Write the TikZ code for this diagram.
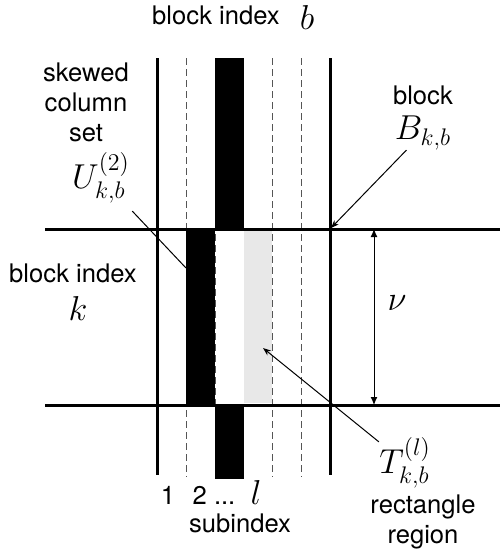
\documentclass[tikz,border=0pt]{standalone}
\usepackage{fontspec}
\newfontfamily\helv{TeX Gyre Heros}
\usepackage{tikz}
\usetikzlibrary{arrows.meta, calc}
\usepackage{amsmath}
\usepackage{xcolor}
\definecolor{subgray}{HTML}{555555}
\definecolor{regiongray}{HTML}{E8E8E8}

\begin{document}
\begin{tikzpicture}[
    x=0.5pt, y=-0.5pt,
    every node/.style={inner sep=0pt},
    txt/.style={font=\helv\fontsize{12.8}{15}\selectfont, align=center},
    sym/.style={font=\fontsize{17.28}{20}\selectfont},
    bound/.style={line width=1.5pt},
    subcol/.style={subgray, line width=0.5pt, dash pattern=on 3.5pt off 2pt},
    ptr/.style={-{Stealth[length=4pt, width=3pt]}, line width=0.5pt}
]
    \useasboundingbox (0,0) rectangle (503,557);

    % Subindex columns
    \foreach \xc in {186,215,272,301}
        \draw[subcol] (\xc,58) -- (\xc,477);

    % Skewed column set and rectangle region
    \fill[black] (214.7,58) rectangle (243.5,229);
    \fill[black] (214.7,405) rectangle (243.5,479);
    \fill[black] (186,229) rectangle (214.7,405);
    \fill[regiongray] (243.5,231) rectangle (271.6,403);

    % Block boundaries
    \draw[bound] (157,58) -- (157,475);
    \draw[bound] (330,58) -- (330,475);
    \draw[bound] (45,229) -- (500,229);
    \draw[bound] (45,405) -- (500,405);

    % Block height
    \coordinate (nutop) at (374,229);
    \coordinate (nubot) at (374,405);
    \draw[{Latex[length=4pt, width=3.5pt]}-{Latex[length=4pt, width=3.5pt]}, line width=0.5pt] (nutop) -- (nubot);
    \node[sym] (nu) at (397,303) {$\nu$};

    % Index labels
    \node[txt] (bidx) at (216,15) {block index};
    \node[sym] (bsym) at (307,17) {$b$};
    \node[txt] (kidx) at (73,273) {block index};
    \node[sym] (ksym) at (78,308) {$k$};

    % Subindex labels
    \node[txt] (sub1) at (168,495) {1};
    \node[txt] (sub2) at (214,495) {2 ...};
    \node[sym] (subl) at (256,492) {$l$};
    \node[txt] (subname) at (240,523) {subindex};

    % Skewed column set
    \node[txt] (skew) at (86,102) {skewed\\column\\set};
    \node[sym] (ulab) at (101,178) {$U_{k,b}^{(2)}$};
    \coordinate (utip) at (186,268);
    \draw[line width=0.5pt, shorten <=5pt] (ulab) -- (utip);

    % Block
    \node[txt] (blk) at (423,95) {block};
    \node[sym] (blab) at (423,133) {$B_{k,b}$};
    \coordinate (btip) at (331,228);
    \draw[ptr] (blab) -- (btip);

    % Rectangle region
    \node[sym] (tlab) at (405,463) {$T_{k,b}^{(l)}$};
    \node[txt] (rect) at (423,522) {rectangle\\region};
    \coordinate (ttip) at (263,348);
    \draw[ptr] (tlab) -- (ttip);
\end{tikzpicture}
\end{document}
